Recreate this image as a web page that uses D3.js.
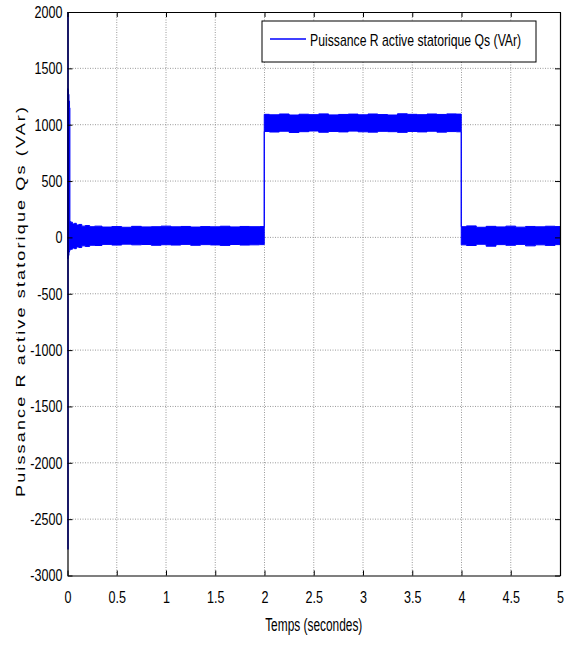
<!DOCTYPE html>
<html>
<head>
<meta charset="utf-8">
<script src="https://cdn.jsdelivr.net/npm/d3@7"></script>
<style>
    body { margin: 0; background: #fff; }
    text { font-family: "Liberation Sans", Arial, sans-serif; }
    .grid line { stroke: #808080; stroke-width: 0.8; stroke-dasharray: 1,1.5; }
</style>
</head>
<body>
<svg id="chart"></svg>
<script>

const width = 576, height = 645;

// x / y ticks
const xTicks = [0, 0.5, 1, 1.5, 2, 2.5, 3, 3.5, 4, 4.5, 5];
const yTicks = [-3000, -2500, -2000, -1500, -1000, -500, 0, 500, 1000, 1500, 2000];

// first sample at t = 0 (spike from the top down to the bottom)
const spikeT = [0, 0];
const spikeQ = [2000, -2770];

// envelope of the oscillating signal Qs (VAr)
const envT = [0.002, 0.006, 0.012, 0.018, 0.023, 0.026, 0.04, 0.06, 0.08, 0.1, 0.13, 0.16, 0.2, 0.25, 0.3,
    0.4, 0.5, 0.6, 0.7, 0.8, 0.9, 1.0, 1.1, 1.2, 1.3, 1.4, 1.5, 1.6, 1.7, 1.8, 1.9, 1.995,
    2.0, 2.1, 2.2, 2.3, 2.4, 2.5, 2.6, 2.7, 2.8, 2.9, 3.0, 3.1, 3.2, 3.3, 3.4, 3.5, 3.6, 3.7, 3.8, 3.9, 3.995,
    4.0, 4.1, 4.2, 4.3, 4.4, 4.5, 4.6, 4.7, 4.8, 4.9, 5.0];
const envHi = [1320, 1310, 1270, 1210, 1150, 140, 135, 120, 125, 110, 115, 100, 105, 95, 100,
    92, 96, 90, 98, 93, 95, 100, 94, 97, 92, 96, 94, 99, 93, 97, 95, 96,
    1092, 1088, 1095, 1086, 1093, 1089, 1096, 1087, 1091, 1094, 1088, 1095, 1090, 1086, 1097, 1092, 1089, 1095, 1091, 1096, 1094,
    95, 102, 90, 98, 93, 100, 91, 97, 94, 99, 96];
const envLo = [-190, -185, -160, -130, -115, -110, -105, -95, -100, -85, -90, -75, -80, -70, -72,
    -62, -68, -60, -66, -63, -70, -65, -68, -62, -70, -64, -67, -71, -63, -68, -66, -64,
    940, 935, 942, 931, 938, 944, 933, 940, 936, 943, 937, 934, 941, 938, 932, 940, 936, 942, 934, 939, 937,
    -66, -72, -61, -78, -64, -70, -62, -75, -66, -71, -64];

const legendLabel = "Puissance R active statorique Qs (VAr)";
const xLabel = "Temps (secondes)";
const yLabel = "Puissance R active statorique Qs (VAr)";

// plot box
const plotLeft = 67.5, plotRight = 560, plotTop = 12, plotBottom = 575.5;
// the picture is squeezed sideways, so text is drawn narrower than tall
const squeeze = 0.74;

const svg = d3.select("#chart")
    .attr("width", width)
    .attr("height", height);

const x = d3.scaleLinear().domain([0, 5]).range([plotLeft, plotRight]);
const y = d3.scaleLinear().domain([-3000, 2000]).range([plotBottom, plotTop]);

// Grid
const grid = svg.append("g").attr("class", "grid");
grid.selectAll(".gx")
    .data(xTicks.slice(1, -1))
    .join("line")
    .attr("x1", d => x(d)).attr("x2", d => x(d))
    .attr("y1", plotTop).attr("y2", plotBottom);
grid.selectAll(".gy")
    .data(yTicks.slice(1, -1))
    .join("line")
    .attr("x1", plotLeft).attr("x2", plotRight)
    .attr("y1", d => y(d)).attr("y2", d => y(d));

// Signal
const env = envT.map((t, i) => ({t: t, hi: envHi[i], lo: envLo[i]}));
const area = d3.area()
    .x(d => x(d.t))
    .y0(d => y(d.lo))
    .y1(d => y(d.hi))
    .curve(d3.curveStep);

svg.append("path")
    .datum(env)
    .attr("d", area)
    .attr("fill", "#0000ff")
    .attr("stroke", "#0000ff")
    .attr("stroke-width", 1);

svg.append("path")
    .datum(spikeT.map((t, i) => [t, spikeQ[i]]))
    .attr("d", d3.line().x(d => x(d[0]) + 0.5).y(d => y(d[1])))
    .attr("stroke", "#0000ff")
    .attr("stroke-width", 1.5)
    .attr("fill", "none");

// Axes (ticks inside, box all round)
const fmt = d => String(d);

const xAxis = svg.append("g")
    .attr("transform", `translate(0,${plotBottom})`)
    .call(d3.axisBottom(x).tickValues(xTicks).tickFormat(fmt).tickSize(-5).tickSizeOuter(0).tickPadding(15));

const yAxis = svg.append("g")
    .attr("transform", `translate(${plotLeft},0)`)
    .call(d3.axisLeft(y).tickValues(yTicks).tickFormat(fmt).tickSize(-5).tickSizeOuter(0).tickPadding(5));

svg.append("g")
    .attr("transform", `translate(0,${plotTop})`)
    .call(d3.axisTop(x).tickValues(xTicks).tickFormat("").tickSize(-5).tickSizeOuter(0));

svg.append("g")
    .attr("transform", `translate(${plotRight},0)`)
    .call(d3.axisRight(y).tickValues(yTicks).tickFormat("").tickSize(-5).tickSizeOuter(0));

svg.selectAll(".domain").attr("stroke", "#000").attr("stroke-width", 1.2);
svg.selectAll(".tick line").attr("stroke", "#000");
xAxis.attr("font-family", null).attr("font-size", null);
yAxis.attr("font-family", null).attr("font-size", null);
xAxis.selectAll("text")
    .attr("font-size", 17)
    .attr("fill", "#000")
    .attr("transform", `scale(${squeeze},1)`);
yAxis.selectAll("text")
    .attr("font-size", 17)
    .attr("fill", "#000")
    .attr("x", -5 / squeeze)
    .attr("transform", `scale(${squeeze},1)`);

// Labels
svg.append("text")
    .attr("transform", `translate(${(plotLeft + plotRight) / 2},631) scale(0.68,1)`)
    .attr("text-anchor", "middle")
    .attr("font-size", 17.5)
    .text(xLabel);

svg.append("text")
    .attr("transform", "translate(25,302) rotate(-90) scale(1,0.7)")
    .attr("text-anchor", "middle")
    .attr("font-size", 18)
    .attr("textLength", 390)
    .attr("lengthAdjust", "spacing")
    .text(yLabel);

// Legend
const legend = svg.append("g");
legend.append("rect")
    .attr("x", 262).attr("y", 21)
    .attr("width", 274).attr("height", 41)
    .attr("fill", "#fff")
    .attr("stroke", "#000");
legend.append("line")
    .attr("x1", 270).attr("x2", 306)
    .attr("y1", 39).attr("y2", 39)
    .attr("stroke", "#0000ff")
    .attr("stroke-width", 1.5);
legend.append("text")
    .attr("transform", "translate(310,46) scale(0.765,1)")
    .attr("font-size", 16)
    .text(legendLabel);

</script>
</body>
</html>
